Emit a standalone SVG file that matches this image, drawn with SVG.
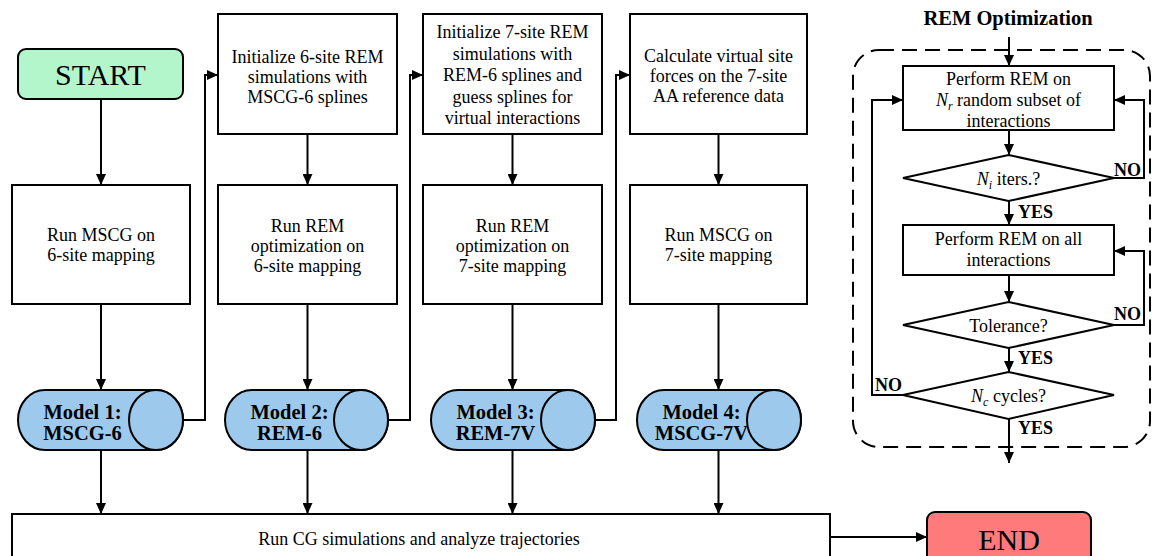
<svg xmlns="http://www.w3.org/2000/svg" width="1153" height="556" viewBox="0 0 1153 556">
<defs>
<marker id="ah" markerUnits="userSpaceOnUse" markerWidth="12" markerHeight="10" refX="11" refY="5" orient="auto">
<path d="M0,0 L11,5 L0,10 Z" fill="#000"/>
</marker>
<style>
.box{fill:#fff;stroke:#000;stroke-width:2}
.t{font-family:"Liberation Serif","Times New Roman",serif;font-size:18px;fill:#000;text-anchor:middle}
.b{font-family:"Liberation Serif","Times New Roman",serif;font-size:20.5px;font-weight:bold;fill:#000;text-anchor:middle}
.lb{font-family:"Liberation Serif","Times New Roman",serif;font-size:18px;font-weight:bold;fill:#000}
.big{font-family:"Liberation Serif","Times New Roman",serif;font-size:30px;fill:#000;text-anchor:middle}
.cyl{fill:#9dcaec;stroke:#000;stroke-width:2}
.c{fill:none;stroke:#000;stroke-width:2}
.ca{fill:none;stroke:#000;stroke-width:2;marker-end:url(#ah)}
</style>
</defs>
<rect width="1153" height="556" fill="#fff"/>

<g id="connectors">
<path class="ca" d="M101,99 V185"/>
<path class="ca" d="M101,304 V390"/>
<path class="ca" d="M101,450 V514"/>
<path class="ca" d="M307.5,134 V185"/>
<path class="ca" d="M307.5,304 V390"/>
<path class="ca" d="M307.5,450 V514"/>
<path class="ca" d="M512.5,134 V185"/>
<path class="ca" d="M512.5,304 V390"/>
<path class="ca" d="M512.5,450 V514"/>
<path class="ca" d="M718.5,134 V185"/>
<path class="ca" d="M718.5,304 V390"/>
<path class="ca" d="M718.5,450 V514"/>
<path class="ca" d="M183,420 H205 V75 H218"/>
<path class="ca" d="M388,420 H410 V75 H423"/>
<path class="ca" d="M595,420 H616 V75 H630"/>
<path class="ca" d="M830,537 H927"/>
<path class="ca" d="M1009,37 V66"/>
<path class="ca" d="M1009,130 V155"/>
<path class="ca" d="M1009,201 V225"/>
<path class="ca" d="M1009,275 V302"/>
<path class="ca" d="M1009,348 V372"/>
<path class="ca" d="M1009,419 V463"/>
<path class="ca" d="M1114,178 H1144 V100 H1114"/>
<path class="ca" d="M1114,325 H1144 V251 H1114"/>
<path class="ca" d="M903,395 H872 V100 H903"/>
</g>

<g id="rem-panel">
<rect x="853" y="50" width="297" height="397" rx="26" fill="none" stroke="#000" stroke-width="2" stroke-dasharray="15 8"/>
<text class="b" x="1008" y="25" font-size="19.5">REM Optimization</text>
</g>

<g id="start">
<rect x="18" y="49" width="165" height="50" rx="8" fill="#b4f6cb" stroke="#000" stroke-width="2"/>
<text class="big" x="100.5" y="85">START</text>
</g>

<g id="mscg6">
<rect class="box" x="12" y="185" width="178" height="119"/>
<text class="t" x="101" y="241">Run MSCG on</text>
<text class="t" x="101" y="261">6-site mapping</text>
</g>

<g id="init6">
<rect class="box" x="218" y="14" width="179" height="120"/>
<text class="t" x="307.5" y="63">Initialize 6-site REM</text>
<text class="t" x="307.5" y="83">simulations with</text>
<text class="t" x="307.5" y="103">MSCG-6 splines</text>
</g>

<g id="rem6">
<rect class="box" x="218" y="185" width="179" height="119"/>
<text class="t" x="307.5" y="232">Run REM</text>
<text class="t" x="307.5" y="252">optimization on</text>
<text class="t" x="307.5" y="272">6-site mapping</text>
</g>

<g id="init7">
<rect class="box" x="423" y="14" width="179" height="120"/>
<text class="t" x="512.5" y="38">Initialize 7-site REM</text>
<text class="t" x="512.5" y="59.5">simulations with</text>
<text class="t" x="512.5" y="81">REM-6 splines and</text>
<text class="t" x="512.5" y="102.5">guess splines for</text>
<text class="t" x="512.5" y="124">virtual interactions</text>
</g>

<g id="rem7">
<rect class="box" x="423" y="185" width="179" height="119"/>
<text class="t" x="512.5" y="232">Run REM</text>
<text class="t" x="512.5" y="252">optimization on</text>
<text class="t" x="512.5" y="272">7-site mapping</text>
</g>

<g id="virtual">
<rect class="box" x="630" y="14" width="177" height="120"/>
<text class="t" x="718.5" y="62">Calculate virtual site</text>
<text class="t" x="718.5" y="82">forces on the 7-site</text>
<text class="t" x="718.5" y="102">AA reference data</text>
</g>

<g id="mscg7">
<rect class="box" x="630" y="185" width="177" height="119"/>
<text class="t" x="718.5" y="241">Run MSCG on</text>
<text class="t" x="718.5" y="261">7-site mapping</text>
</g>

<g id="model1">
<path class="cyl" d="M45,390 H156 A27,30 0 0 1 156,450 H45 A27,30 0 0 1 45,390 Z"/>
<ellipse class="cyl" cx="156" cy="420" rx="27" ry="30"/>
<text class="b" x="82.5" y="419">Model 1:</text>
<text class="b" x="82.5" y="440">MSCG-6</text>
</g>

<g id="model2">
<path class="cyl" d="M252,390 H361 A27,30 0 0 1 361,450 H252 A27,30 0 0 1 252,390 Z"/>
<ellipse class="cyl" cx="361" cy="420" rx="27" ry="30"/>
<text class="b" x="289.5" y="419">Model 2:</text>
<text class="b" x="289.5" y="440">REM-6</text>
</g>

<g id="model3">
<path class="cyl" d="M458,390 H568 A27,30 0 0 1 568,450 H458 A27,30 0 0 1 458,390 Z"/>
<ellipse class="cyl" cx="568" cy="420" rx="27" ry="30"/>
<text class="b" x="495.5" y="419">Model 3:</text>
<text class="b" x="495.5" y="440">REM-7V</text>
</g>

<g id="model4">
<path class="cyl" d="M664,390 H774 A27,30 0 0 1 774,450 H664 A27,30 0 0 1 664,390 Z"/>
<ellipse class="cyl" cx="774" cy="420" rx="27" ry="30"/>
<text class="b" x="701.5" y="419">Model 4:</text>
<text class="b" x="701.5" y="440">MSCG-7V</text>
</g>

<g id="analyze">
<rect class="box" x="12" y="514" width="818" height="60"/>
<text class="t" x="419" y="545" font-size="18.5">Run CG simulations and analyze trajectories</text>
</g>

<g id="end">
<rect x="927" y="512" width="164" height="60" rx="8" fill="#ff7a7a" stroke="#000" stroke-width="2"/>
<text class="big" x="1009" y="550">END</text>
</g>

<g id="rem-subset">
<rect class="box" x="903" y="66" width="211" height="64"/>
<text class="t" x="1008.5" y="85">Perform REM on</text>
<text class="t" x="1008.5" y="106"><tspan font-style="italic">N</tspan><tspan font-style="italic" font-size="12" dy="4">r</tspan><tspan dy="-4"> random subset of</tspan></text>
<text class="t" x="1008.5" y="127">interactions</text>
</g>

<g id="ni-iters">
<polygon class="box" points="1008.5,155 1114,178 1008.5,201 903,178"/>
<text class="t" x="1008.5" y="185"><tspan font-style="italic">N</tspan><tspan font-style="italic" font-size="12" dy="4">i</tspan><tspan dy="-4"> iters.?</tspan></text>
</g>

<g id="rem-all">
<rect class="box" x="903" y="225" width="211" height="50"/>
<text class="t" x="1008.5" y="245">Perform REM on all</text>
<text class="t" x="1008.5" y="266">interactions</text>
</g>

<g id="tolerance">
<polygon class="box" points="1008.5,302 1114,325 1008.5,348 903,325"/>
<text class="t" x="1008.5" y="332">Tolerance?</text>
</g>

<g id="nc-cycles">
<polygon class="box" points="1008.5,372 1114,395 1008.5,419 903,395"/>
<text class="t" x="1008.5" y="402"><tspan font-style="italic">N</tspan><tspan font-style="italic" font-size="12" dy="4">c</tspan><tspan dy="-4"> cycles?</tspan></text>
</g>

<g id="labels">
<text class="lb" x="1114" y="176">NO</text>
<text class="lb" x="1018" y="218">YES</text>
<text class="lb" x="1114" y="320">NO</text>
<text class="lb" x="1018" y="364">YES</text>
<text class="lb" x="875" y="391">NO</text>
<text class="lb" x="1018" y="434">YES</text>
</g>
</svg>
